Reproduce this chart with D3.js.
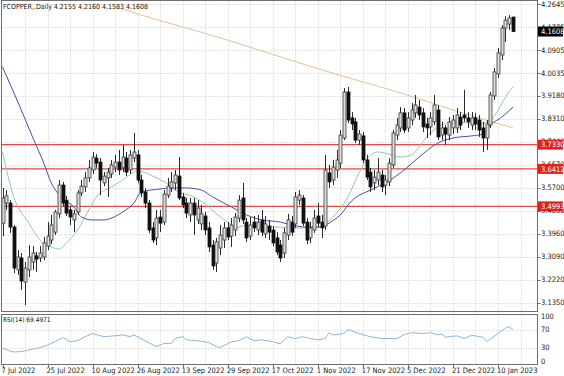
<!DOCTYPE html>
<html>
<head>
<meta charset="utf-8">
<script src="https://cdn.jsdelivr.net/npm/d3@7"></script>
<style>
  body { margin: 0; background: #fff; }
  text { font-family: 'Liberation Sans Narrow', 'Arial Narrow', 'DejaVu Sans Condensed', sans-serif; }
</style>
</head>
<body>
<div id="chart"></div>
<script>
// daily bars, [open, high, low, close]
let candles = [
  [3.436, 3.569, 3.387, 3.531], [3.512, 3.561, 3.486, 3.539], [3.512, 3.523, 3.399, 3.421], [3.421, 3.429, 3.247, 3.266],
  [3.259, 3.334, 3.240, 3.308], [3.304, 3.323, 3.183, 3.217], [3.213, 3.289, 3.126, 3.266], [3.259, 3.353, 3.232, 3.308],
  [3.289, 3.349, 3.259, 3.323], [3.312, 3.327, 3.251, 3.300], [3.304, 3.349, 3.289, 3.323], [3.308, 3.384, 3.296, 3.361],
  [3.349, 3.440, 3.334, 3.387], [3.372, 3.467, 3.357, 3.429], [3.402, 3.486, 3.391, 3.478], [3.471, 3.599, 3.455, 3.580],
  [3.580, 3.592, 3.501, 3.512], [3.523, 3.539, 3.463, 3.474], [3.486, 3.501, 3.429, 3.459], [3.448, 3.486, 3.402, 3.471],
  [3.478, 3.561, 3.467, 3.550], [3.550, 3.599, 3.539, 3.576], [3.573, 3.629, 3.554, 3.607], [3.607, 3.675, 3.592, 3.645],
  [3.637, 3.705, 3.622, 3.686], [3.682, 3.697, 3.645, 3.663], [3.667, 3.682, 3.542, 3.599], [3.588, 3.629, 3.576, 3.614],
  [3.607, 3.645, 3.535, 3.629], [3.622, 3.675, 3.607, 3.656], [3.648, 3.694, 3.629, 3.667], [3.667, 3.713, 3.618, 3.637],
  [3.645, 3.732, 3.629, 3.686], [3.682, 3.705, 3.614, 3.629], [3.637, 3.713, 3.622, 3.694], [3.682, 3.777, 3.667, 3.705],
  [3.694, 3.713, 3.588, 3.599], [3.599, 3.618, 3.535, 3.550], [3.554, 3.569, 3.493, 3.512], [3.512, 3.523, 3.399, 3.410],
  [3.418, 3.440, 3.361, 3.372], [3.380, 3.486, 3.353, 3.455], [3.459, 3.486, 3.402, 3.436], [3.440, 3.561, 3.429, 3.546],
  [3.542, 3.607, 3.531, 3.576], [3.569, 3.629, 3.554, 3.592], [3.588, 3.637, 3.561, 3.618], [3.614, 3.686, 3.523, 3.531],
  [3.535, 3.550, 3.493, 3.505], [3.512, 3.531, 3.455, 3.474], [3.467, 3.531, 3.440, 3.512], [3.512, 3.531, 3.391, 3.467],
  [3.448, 3.523, 3.433, 3.493], [3.433, 3.505, 3.410, 3.471], [3.463, 3.478, 3.391, 3.410], [3.418, 3.440, 3.327, 3.346],
  [3.353, 3.372, 3.259, 3.274], [3.285, 3.380, 3.251, 3.365], [3.342, 3.429, 3.315, 3.391], [3.372, 3.440, 3.342, 3.418],
  [3.418, 3.440, 3.372, 3.384], [3.387, 3.455, 3.346, 3.429], [3.410, 3.474, 3.387, 3.459], [3.455, 3.542, 3.440, 3.523],
  [3.531, 3.588, 3.433, 3.448], [3.440, 3.455, 3.365, 3.380], [3.387, 3.459, 3.372, 3.429], [3.440, 3.463, 3.402, 3.418],
  [3.410, 3.467, 3.391, 3.440], [3.448, 3.486, 3.387, 3.402], [3.395, 3.463, 3.380, 3.433], [3.425, 3.448, 3.372, 3.402],
  [3.410, 3.425, 3.349, 3.361], [3.380, 3.402, 3.315, 3.327], [3.353, 3.372, 3.289, 3.304], [3.323, 3.418, 3.304, 3.399],
  [3.391, 3.471, 3.372, 3.448], [3.440, 3.463, 3.387, 3.402], [3.433, 3.554, 3.418, 3.535], [3.523, 3.561, 3.505, 3.542],
  [3.531, 3.542, 3.425, 3.436], [3.440, 3.455, 3.357, 3.372], [3.380, 3.440, 3.361, 3.418], [3.410, 3.486, 3.399, 3.455],
  [3.463, 3.512, 3.421, 3.436], [3.440, 3.467, 3.380, 3.418], [3.425, 3.694, 3.410, 3.637], [3.626, 3.656, 3.569, 3.592],
  [3.599, 3.675, 3.580, 3.648], [3.637, 3.713, 3.607, 3.675], [3.663, 3.788, 3.645, 3.769], [3.758, 3.947, 3.750, 3.932],
  [3.932, 3.951, 3.815, 3.826], [3.834, 3.856, 3.788, 3.811], [3.819, 3.834, 3.739, 3.750], [3.750, 3.788, 3.732, 3.773],
  [3.766, 3.781, 3.663, 3.675], [3.675, 3.694, 3.599, 3.610], [3.629, 3.645, 3.554, 3.573], [3.588, 3.637, 3.561, 3.610],
  [3.599, 3.682, 3.580, 3.629], [3.618, 3.637, 3.554, 3.573], [3.580, 3.618, 3.542, 3.599], [3.592, 3.682, 3.576, 3.663],
  [3.656, 3.788, 3.645, 3.777], [3.769, 3.834, 3.750, 3.807], [3.796, 3.875, 3.781, 3.853], [3.853, 3.871, 3.777, 3.788],
  [3.796, 3.856, 3.781, 3.834], [3.826, 3.890, 3.807, 3.864], [3.853, 3.921, 3.834, 3.883], [3.875, 3.902, 3.826, 3.845],
  [3.853, 3.871, 3.781, 3.800], [3.811, 3.834, 3.758, 3.796], [3.800, 3.856, 3.769, 3.834], [3.819, 3.921, 3.807, 3.883],
  [3.864, 3.883, 3.750, 3.762], [3.769, 3.819, 3.750, 3.796], [3.796, 3.807, 3.732, 3.773], [3.769, 3.837, 3.750, 3.819],
  [3.796, 3.845, 3.773, 3.826], [3.796, 3.871, 3.777, 3.845], [3.837, 3.856, 3.788, 3.807], [3.845, 3.940, 3.819, 3.834],
  [3.834, 3.856, 3.796, 3.819], [3.807, 3.856, 3.788, 3.834], [3.834, 3.853, 3.788, 3.811], [3.826, 3.845, 3.762, 3.788],
  [3.796, 3.819, 3.705, 3.758], [3.758, 3.826, 3.713, 3.811], [3.807, 3.932, 3.796, 3.921], [3.917, 4.023, 3.902, 4.008],
  [4.000, 4.098, 3.985, 4.080], [4.072, 4.185, 4.053, 4.174], [4.174, 4.219, 4.121, 4.204], [4.189, 4.223, 4.167, 4.212],
  [4.2155, 4.2160, 4.1583, 4.1608]
]

// moving averages, [bar index, value]
let maFast = [
  [0, 3.705], [3, 3.535], [7, 3.436], [10, 3.372], [13, 3.346], [15, 3.338], [17, 3.361], [20, 3.410],
  [23, 3.486], [25, 3.535], [29, 3.573], [32, 3.599], [36, 3.633], [41, 3.607], [44, 3.584], [46, 3.561],
  [51, 3.535], [55, 3.497], [58, 3.459], [61, 3.429], [62, 3.418], [65, 3.429], [69, 3.421], [74, 3.421],
  [78, 3.418], [83, 3.418], [85, 3.425], [88, 3.459], [92, 3.535], [95, 3.626], [97, 3.675], [100, 3.705],
  [102, 3.701], [106, 3.686], [109, 3.694], [111, 3.724], [113, 3.762], [117, 3.807], [120, 3.819],
  [124, 3.815], [127, 3.811], [130, 3.826], [133, 3.887], [134, 3.913], [136, 3.951]
]
let maSlow = [
  [0, 4.027], [5, 3.864], [8, 3.762], [11, 3.663], [13, 3.588], [16, 3.531], [19, 3.497], [21, 3.459],
  [24, 3.448], [27, 3.448], [29, 3.455], [32, 3.478], [35, 3.512], [37, 3.554], [42, 3.565], [45, 3.569],
  [49, 3.569], [53, 3.561], [56, 3.535], [61, 3.497], [65, 3.467], [69, 3.448], [74, 3.440], [77, 3.429],
  [81, 3.421], [85, 3.421], [87, 3.436], [90, 3.467], [93, 3.520], [98, 3.561], [102, 3.588], [107, 3.637],
  [111, 3.686], [116, 3.739], [120, 3.758], [125, 3.766], [128, 3.773], [130, 3.807], [133, 3.837], [136, 3.875]
]
let maLong = [
  [31, 4.250], [42, 4.202], [53, 4.158], [85, 4.016], [112, 3.902], [120, 3.864], [136, 3.796]
]
let rsi = [
  [0, 28], [3, 20], [5, 21], [8, 26], [11, 32], [14, 43], [16, 52], [18, 43], [20, 45], [22, 54], [24, 61],
  [27, 54], [30, 56], [32, 58], [34, 54], [35, 58], [38, 45], [41, 32], [43, 39], [45, 39], [46, 50], [48, 54],
  [49, 47], [52, 45], [55, 41], [57, 32], [58, 30], [61, 43], [63, 45], [65, 54], [67, 45], [69, 47], [72, 43],
  [74, 38], [76, 54], [78, 50], [80, 54], [82, 50], [84, 47], [86, 50], [87, 63], [88, 58], [91, 61], [92, 70],
  [95, 61], [98, 54], [101, 50], [104, 50], [105, 49], [107, 59], [109, 63], [112, 61], [114, 63], [116, 58],
  [117, 60], [118, 53], [121, 56], [123, 50], [125, 57], [128, 53], [129, 43], [132, 61], [134, 73], [135, 76],
  [136, 69.5]
]

let priceTicks = ['4.2645', '4.1775', '4.0905', '4.0035', '3.9180', '3.8310', '3.7440',
  '3.6570', '3.5700', '3.4830', '3.3960', '3.3090', '3.2220', '3.1350']
let rsiTicks = [100, 70, 30, 0]
let rsiLevels = [70, 30]
let levels = ['3.7330', '3.6412', '3.4993']
let lastPrice = '4.1608'
let dateLabels = ['7 Jul 2022', '25 Jul 2022', '10 Aug 2022', '26 Aug 2022', '13 Sep 2022', '29 Sep 2022',
  '17 Oct 2022', '1 Nov 2022', '17 Nov 2022', '5 Dec 2022', '21 Dec 2022', '10 Jan 2023']
let dateIdx = [0, 12, 24, 36, 48, 60, 72, 84, 96, 108, 120, 132]
let title = 'FCOPPER,,Daily  4.2155 4.2160 4.1583 4.1608'
let rsiTitle = 'RSI(14) 69.4971'

let width = 564,
  height = 376

let plot = { left: 1.5, right: 537.5, top: 0.5, bottom: 311.5 }
let rsiBox = { top: 314.5, bottom: 364.5 }

let svg = d3.select('#chart')
  .append('svg')
  .attr('width', width)
  .attr('height', height)

let x = d3.scaleLinear().domain([0, candles.length - 1]).range([2.5, 513])
let y = d3.scaleLinear().domain([3.135, 4.2645]).range([302.7, 4.1])
let yRsi = d3.scaleLinear().domain([0, 100]).range([361, 316])

let px = v => Math.round(x(v)) + 0.5

svg.append('defs').append('clipPath').attr('id', 'clipMain')
  .append('rect')
  .attr('x', plot.left).attr('y', plot.top)
  .attr('width', plot.right - plot.left).attr('height', plot.bottom - plot.top)

svg.select('defs').append('clipPath').attr('id', 'clipRsi')
  .append('rect')
  .attr('x', plot.left).attr('y', rsiBox.top)
  .attr('width', plot.right - plot.left).attr('height', rsiBox.bottom - rsiBox.top)

// grid
let grid = svg.append('g').attr('stroke', '#c8c8c8').attr('stroke-dasharray', '1,2').attr('stroke-width', 1)

grid.selectAll('.hgrid')
  .data(priceTicks)
  .enter()
  .append('line')
  .attr('x1', plot.left).attr('x2', plot.right)
  .attr('y1', d => Math.round(y(+d)) + 0.5).attr('y2', d => Math.round(y(+d)) + 0.5)

let vIdx = d3.range(6, 140, 6).filter(i => x(i) < plot.right - 2)
grid.selectAll('.vgrid')
  .data(vIdx)
  .enter()
  .append('line')
  .attr('x1', px).attr('x2', px)
  .attr('y1', plot.top).attr('y2', plot.bottom)

grid.selectAll('.vgridRsi')
  .data(vIdx)
  .enter()
  .append('line')
  .attr('x1', px).attr('x2', px)
  .attr('y1', rsiBox.top).attr('y2', rsiBox.bottom)

grid.selectAll('.rsiLevel')
  .data(rsiLevels)
  .enter()
  .append('line')
  .attr('x1', plot.left).attr('x2', plot.right)
  .attr('y1', d => Math.round(yRsi(d)) + 0.5).attr('y2', d => Math.round(yRsi(d)) + 0.5)

let main = svg.append('g').attr('clip-path', 'url(#clipMain)')

// support / resistance lines
main.selectAll('.level')
  .data(levels)
  .enter()
  .append('line')
  .attr('x1', plot.left).attr('x2', plot.right)
  .attr('y1', d => y(+d)).attr('y2', d => y(+d))
  .attr('stroke', '#e44848')
  .attr('stroke-width', 1.2)

let line = d3.line()
  .x(d => x(d[0]))
  .y(d => y(d[1]))
  .curve(d3.curveMonotoneX)

main.append('path').datum(maLong)
  .attr('d', line).attr('fill', 'none').attr('stroke', '#e2bf96').attr('stroke-width', 1)

main.append('path').datum(maFast)
  .attr('d', line).attr('fill', 'none').attr('stroke', '#8fcaa8').attr('stroke-width', 1)

main.append('path').datum(maSlow)
  .attr('d', line).attr('fill', 'none').attr('stroke', '#4b4ca6').attr('stroke-width', 1)

// candles
let bars = main.selectAll('.bar')
  .data(candles)
  .enter()
  .append('g')
  .attr('class', 'bar')

bars.append('line')
  .attr('x1', (d, i) => px(i)).attr('x2', (d, i) => px(i))
  .attr('y1', d => y(d[1])).attr('y2', d => y(d[2]))
  .attr('stroke', '#2a2a2a')
  .attr('stroke-width', 1)

bars.append('rect')
  .attr('x', (d, i) => px(i) - 1.5)
  .attr('width', 3)
  .attr('y', d => y(Math.max(d[0], d[3])))
  .attr('height', d => Math.max(1, Math.abs(y(d[0]) - y(d[3]))))
  .each(function (d) {
    let rect = d3.select(this)
    if (d[3] >= d[0]) {
      rect.attr('fill', '#dcdcdc').attr('stroke', '#3a3a3a').attr('stroke-width', 0.8)
    } else {
      rect.attr('fill', '#111').attr('stroke', '#111').attr('stroke-width', 0.8)
    }
  })

// rsi
svg.append('g').attr('clip-path', 'url(#clipRsi)')
  .append('path').datum(rsi)
  .attr('d', d3.line().x(d => x(d[0])).y(d => yRsi(d[1])))
  .attr('fill', 'none')
  .attr('stroke', '#8fb5dc')
  .attr('stroke-width', 1)

// frames
let frame = svg.append('g').attr('stroke', '#6e6e6e').attr('fill', 'none')
frame.append('rect')
  .attr('x', plot.left).attr('y', plot.top)
  .attr('width', plot.right - plot.left).attr('height', plot.bottom - plot.top)
frame.append('rect')
  .attr('x', plot.left).attr('y', rsiBox.top)
  .attr('width', plot.right - plot.left).attr('height', rsiBox.bottom - rsiBox.top)

// right price axis
let axis = svg.append('g').attr('font-size', 7.5).attr('fill', '#222')

axis.selectAll('.ptick')
  .data(priceTicks)
  .enter()
  .append('line')
  .attr('x1', plot.right).attr('x2', plot.right + 3)
  .attr('y1', d => Math.round(y(+d)) + 0.5).attr('y2', d => Math.round(y(+d)) + 0.5)
  .attr('stroke', '#6e6e6e')

axis.selectAll('.plabel')
  .data(priceTicks)
  .enter()
  .append('text')
  .attr('x', 541)
  .attr('y', d => y(+d) + 2.7)
  .text(d => d)

axis.selectAll('.rlabel')
  .data(rsiTicks)
  .enter()
  .append('text')
  .attr('x', 541)
  .attr('y', d => yRsi(d) + 2.7)
  .text(d => d)

// level tags
let tags = svg.selectAll('.tag')
  .data(levels)
  .enter()
  .append('g')
  .attr('transform', d => `translate(538,${y(+d)})`)

tags.append('rect')
  .attr('x', 0).attr('y', -5).attr('width', 25).attr('height', 10)
  .attr('fill', '#e2211c')

tags.append('text')
  .attr('x', 3).attr('y', 2.7)
  .attr('font-size', 7.5)
  .attr('fill', '#fff')
  .text(d => d)

let last = svg.append('g').attr('transform', `translate(538,${y(+lastPrice)})`)
last.append('rect').attr('x', 0).attr('y', -5).attr('width', 25).attr('height', 10).attr('fill', '#000')
last.append('text').attr('x', 3).attr('y', 2.7).attr('font-size', 7.5).attr('fill', '#fff').text(lastPrice)

// time axis
svg.selectAll('.dtick')
  .data(dateIdx)
  .enter()
  .append('line')
  .attr('x1', px).attr('x2', px)
  .attr('y1', rsiBox.bottom).attr('y2', rsiBox.bottom + 3)
  .attr('stroke', '#6e6e6e')

svg.selectAll('.dlabel')
  .data(dateLabels)
  .enter()
  .append('text')
  .attr('x', (d, i) => x(dateIdx[i]) - 1)
  .attr('y', 373)
  .attr('font-size', 7.5)
  .attr('fill', '#222')
  .text(d => d)

svg.append('text')
  .attr('x', 3).attr('y', 9)
  .attr('font-size', 7)
  .attr('fill', '#111')
  .text(title)

svg.append('text')
  .attr('x', 3).attr('y', 322)
  .attr('font-size', 6.5)
  .attr('fill', '#111')
  .text(rsiTitle)
</script>
</body>
</html>
